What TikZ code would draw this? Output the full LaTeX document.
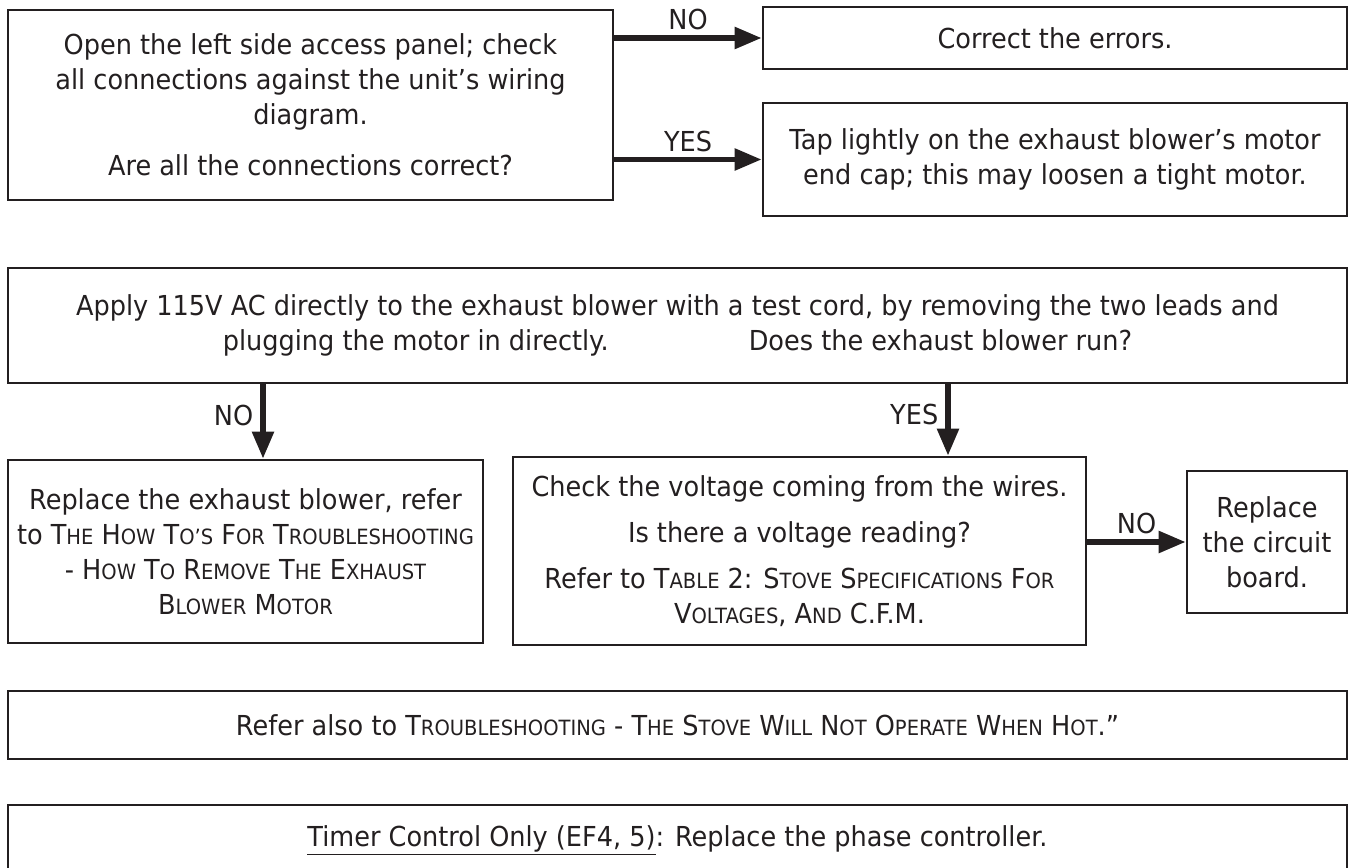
\documentclass[tikz,border=0pt]{standalone}
\usepackage{fontspec}
\setmainfont{DejaVu Sans}[FakeStretch=0.93]
\usetikzlibrary{arrows.meta,calc}
\definecolor{ink}{HTML}{231F20}
\newcommand\sk[1]{{\fontsize{21}{21}\selectfont #1}}
\begin{document}
\begin{tikzpicture}[x=1pt,y=-1pt,
  every node/.style={text=ink},
  txt/.style={font=\fontsize{27.5}{35}\selectfont},
  box/.style={draw=ink,line width=2.7pt,align=center,inner sep=0pt,txt},
  arr/.style={draw=ink,line width=5.5pt,-{Triangle[length=27pt,width=21pt]}},
  lab/.style={txt,inner sep=5pt},
  vlab/.style={txt,inner sep=7pt}]
\useasboundingbox (0,0) rectangle (1351,867);
\clip (0,0) rectangle (1351,867);
\node[box,minimum width=605pt,minimum height=190pt] (b1) at (310.5,105)
  {Open the left side access panel; check\\
   all connections against the unit’s wiring\\
   diagram.\\[16pt]
   Are all the connections correct?};
\node[box,minimum width=584pt,minimum height=62pt] (b2) at (1055,38) {Correct the errors.};
\node[box,minimum width=584pt,minimum height=113pt] (b3) at (1055,159.5)
  {Tap lightly on the exhaust blower’s motor\\ end cap; this may loosen a tight motor.};
\node[box,minimum width=1339pt,minimum height=115pt] (b4) at (677.5,325.5)
  {Apply 115V AC directly to the exhaust blower with a test cord, by removing the two leads and\\
   plugging the motor in directly.\hspace{140pt}Does the exhaust blower run?};
\node[box,minimum width=475pt,minimum height=183pt] (b5) at (245.5,551.5)
  {Replace the exhaust blower, refer\\
   to T\sk{HE} H\sk{OW} T\sk{O’S} F\sk{OR} T\sk{ROUBLESHOOTING}\\
   - H\sk{OW} T\sk{O} R\sk{EMOVE} T\sk{HE} E\sk{XHAUST}\\
   B\sk{LOWER} M\sk{OTOR}};
\node[box,minimum width=573pt,minimum height=188pt] (b6) at (799.5,551)
  {Check the voltage coming from the wires.\\[11pt]
   Is there a voltage reading?\\[11pt]
   Refer to T\sk{ABLE} 2: S\sk{TOVE} S\sk{PECIFICATIONS} F\sk{OR}\\
   V\sk{OLTAGES}, A\sk{ND} C.F.M.};
\node[box,minimum width=160pt,minimum height=142pt] (b7) at (1267,542)
  {Replace\\ the circuit\\ board.};
\node[box,minimum width=1339pt,minimum height=68pt] (b8) at (677.5,725)
  {Refer also to T\sk{ROUBLESHOOTING} - T\sk{HE} S\sk{TOVE} W\sk{ILL} N\sk{OT} O\sk{PERATE} W\sk{HEN} H\sk{OT}.”};
\node[box,minimum width=1339pt,minimum height=70pt] (b9) at (677.5,840)
  {\underline{Timer Control Only (EF4, 5)}: Replace the phase controller.};
% connectors
\draw[arr] (b1.east |- b2.west) -- node[lab,above] {NO} (b2.west);
\draw[arr] (b1.east |- b3.west) -- node[lab,above] {YES} (b3.west);
\coordinate (n1) at (263,0);
\coordinate (y1) at (948,0);
\draw[arr] (b4.south -| n1) -- node[vlab,left,pos=0.42] {NO} (b5.north -| n1);
\draw[arr] (b4.south -| y1) -- node[vlab,left,pos=0.42] {YES} (b6.north -| y1);
\draw[arr] (b6.east |- b7.west) -- node[lab,above] {NO} (b7.west);
\end{tikzpicture}
\end{document}
